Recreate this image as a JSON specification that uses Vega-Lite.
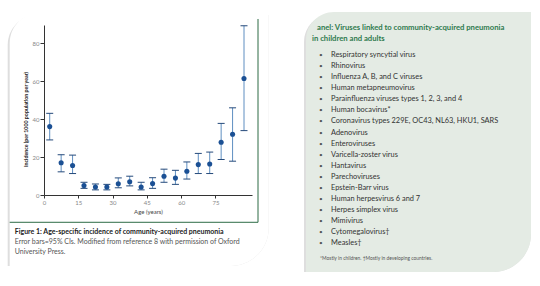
{
  "$schema": "https://vega.github.io/schema/vega-lite/v6.json",
  "background": "#ffffff",
  "padding": {"left": 7, "top": 12, "right": 0, "bottom": 0},
  "spacing": 35,
  "config": {"view": {"stroke": null}, "font": "Lato", "axis": {"grid": false, "zindex": 1}},
  "datasets": {
    "pts": [
      {"age": 2.5, "inc": 36, "lo": 29, "hi": 43},
      {"age": 7.5, "inc": 17, "lo": 12.2, "hi": 21.2},
      {"age": 12.5, "inc": 15.5, "lo": 11.3, "hi": 21},
      {"age": 17.5, "inc": 5, "lo": 3.5, "hi": 6.7},
      {"age": 22.5, "inc": 4.2, "lo": 2.7, "hi": 5.8},
      {"age": 27.5, "inc": 4.2, "lo": 2.7, "hi": 5.6},
      {"age": 32.5, "inc": 5.9, "lo": 3.8, "hi": 9},
      {"age": 37.5, "inc": 7, "lo": 4.8, "hi": 9.9},
      {"age": 42.5, "inc": 4.2, "lo": 2.7, "hi": 6.7},
      {"age": 47.5, "inc": 6, "lo": 3.5, "hi": 9.1},
      {"age": 52.5, "inc": 9.9, "lo": 6.7, "hi": 13.6},
      {"age": 57.5, "inc": 8.9, "lo": 5.6, "hi": 13},
      {"age": 62.5, "inc": 12.5, "lo": 8.4, "hi": 17.4},
      {"age": 67.5, "inc": 16, "lo": 11.3, "hi": 21.9},
      {"age": 72.5, "inc": 16.3, "lo": 11.3, "hi": 22.6},
      {"age": 77.5, "inc": 27.8, "lo": 18.7, "hi": 37.7},
      {"age": 82.5, "inc": 32, "lo": 17.8, "hi": 45.9},
      {"age": 87.5, "inc": 61.3, "lo": 33.9, "hi": 89.1}
    ],
    "viruses": [
      {"row": 0, "name": "Respiratory syncytial virus"},
      {"row": 1, "name": "Rhinovirus"},
      {"row": 2, "name": "Influenza A, B, and C viruses"},
      {"row": 3, "name": "Human metapneumovirus"},
      {"row": 4, "name": "Parainfluenza viruses types 1, 2, 3, and 4"},
      {"row": 5, "name": "Human bocavirus*"},
      {"row": 6, "name": "Coronavirus types 229E, OC43, NL63, HKU1, SARS"},
      {"row": 7, "name": "Adenovirus"},
      {"row": 8, "name": "Enteroviruses"},
      {"row": 9, "name": "Varicella-zoster virus"},
      {"row": 10, "name": "Hantavirus"},
      {"row": 11, "name": "Parechoviruses"},
      {"row": 12, "name": "Epstein-Barr virus"},
      {"row": 13, "name": "Human herpesvirus 6 and 7"},
      {"row": 14, "name": "Herpes simplex virus"},
      {"row": 15, "name": "Mimivirus"},
      {"row": 16, "name": "Cytomegalovirus†"},
      {"row": 17, "name": "Measles†"}
    ]
  },
  "hconcat": [
    {
      "width": 208,
      "height": 170,
      "layer": [
        {
          "data": {"values": [{}]},
          "mark": {"type": "rect", "fill": "#d6d6d6", "opacity": 0.8, "xOffset": -2, "yOffset": 2, "cornerRadiusTopLeft": 30, "cornerRadiusBottomRight": 38, "clip": false},
          "encoding": {
            "x": {"datum": -15.01, "type": "quantitative", "scale": {"domain": [0, 91], "nice": false, "zero": false}},
            "x2": {"datum": 98.31},
            "y": {"datum": 95.82, "type": "quantitative", "scale": {"domain": [0, 89.5], "nice": false, "zero": false}},
            "y2": {"datum": -37.38}
          }
        },
        {
          "data": {"values": [{}]},
          "mark": {"type": "rect", "fill": "#ffffff", "cornerRadiusTopLeft": 30, "cornerRadiusBottomRight": 38, "clip": false},
          "encoding": {
            "x": {"datum": -15.01, "type": "quantitative", "scale": {"domain": [0, 91], "nice": false, "zero": false}},
            "x2": {"datum": 98.31},
            "y": {"datum": 95.82, "type": "quantitative", "scale": {"domain": [0, 89.5], "nice": false, "zero": false}},
            "y2": {"datum": -37.38}
          }
        },
        {
          "data": {"values": [{}]},
          "mark": {"type": "rule", "color": "#2d6b45", "strokeWidth": 1, "clip": false},
          "encoding": {
            "x": {"datum": 93.63, "type": "quantitative", "scale": {"domain": [0, 91], "nice": false, "zero": false}},
            "y": {"datum": 92.66, "type": "quantitative", "scale": {"domain": [0, 89.5], "nice": false, "zero": false}},
            "y2": {"datum": -14.37}
          }
        },
        {
          "data": {"values": [{}]},
          "mark": {"type": "rule", "color": "#2d6b45", "strokeWidth": 1, "clip": false},
          "encoding": {
            "x": {"datum": -15.01, "type": "quantitative", "scale": {"domain": [0, 91], "nice": false, "zero": false}},
            "x2": {"datum": 93.63},
            "y": {"datum": -14.37, "type": "quantitative", "scale": {"domain": [0, 89.5], "nice": false, "zero": false}}
          }
        },
        {
          "data": {"name": "pts"},
          "mark": {"type": "rule", "color": "#4d82ba", "strokeWidth": 0.9},
          "encoding": {
            "x": {"field": "age", "type": "quantitative", "scale": {"domain": [0, 91], "nice": false, "zero": false}},
            "y": {"field": "lo", "type": "quantitative", "scale": {"domain": [0, 89.5], "nice": false, "zero": false}},
            "y2": {"field": "hi"}
          }
        },
        {
          "data": {"name": "pts"},
          "mark": {"type": "tick", "orient": "horizontal", "size": 7, "thickness": 1, "color": "#24497a", "opacity": 1},
          "encoding": {
            "x": {"field": "age", "type": "quantitative", "scale": {"domain": [0, 91], "nice": false, "zero": false}},
            "y": {"field": "lo", "type": "quantitative", "scale": {"domain": [0, 89.5], "nice": false, "zero": false}}
          }
        },
        {
          "data": {"name": "pts"},
          "mark": {"type": "tick", "orient": "horizontal", "size": 7, "thickness": 1, "color": "#24497a", "opacity": 1},
          "encoding": {
            "x": {"field": "age", "type": "quantitative", "scale": {"domain": [0, 91], "nice": false, "zero": false}},
            "y": {"field": "hi", "type": "quantitative", "scale": {"domain": [0, 89.5], "nice": false, "zero": false}}
          }
        },
        {
          "data": {"name": "pts"},
          "mark": {"type": "circle", "size": 26, "color": "#1b5094", "opacity": 1},
          "encoding": {
            "x": {"field": "age", "type": "quantitative", "scale": {"domain": [0, 91], "nice": false, "zero": false},
              "axis": {"zindex": 2, "values": [0, 15, 30, 45, 60, 75], "title": "Age (years)", "titleFontSize": 6, "titleFontWeight": "normal", "titleColor": "#444444", "titlePadding": 3, "labelFontSize": 6, "labelColor": "#888888", "labelPadding": 1, "tickSize": 3, "tickColor": "#333333", "domainColor": "#333333", "labelFlush": false}},
            "y": {"field": "inc", "type": "quantitative", "scale": {"domain": [0, 89.5], "nice": false, "zero": false},
              "axis": {"zindex": 2, "values": [0, 20, 40, 60, 80], "title": "Incidence (per 1000 population per year)", "titleFontSize": 5.3, "titleFontWeight": "bold", "titleColor": "#222222", "titlePadding": 4, "titleY": 94, "labelFontSize": 6, "labelColor": "#888888", "labelPadding": 1, "tickSize": 4, "tickColor": "#333333", "domainColor": "#333333"}}
          }
        },
        {
          "data": {"values": [{}]},
          "mark": {"type": "text", "text": "Figure 1: Age-specific incidence of community-acquired pneumonia", "align": "left", "baseline": "middle", "fontSize": 7, "fontWeight": "bold", "color": "#222222", "clip": false},
          "encoding": {"x": {"datum": -12.82, "type": "quantitative", "scale": {"domain": [0, 91], "nice": false, "zero": false}}, "y": {"datum": -19.64, "type": "quantitative", "scale": {"domain": [0, 89.5], "nice": false, "zero": false}}}
        },
        {
          "data": {"values": [{}]},
          "mark": {"type": "text", "text": "Error bars=95% CIs. Modified from reference 8 with permission of Oxford", "align": "left", "baseline": "middle", "fontSize": 7, "color": "#555555", "clip": false},
          "encoding": {"x": {"datum": -12.82, "type": "quantitative", "scale": {"domain": [0, 91], "nice": false, "zero": false}}, "y": {"datum": -24.75, "type": "quantitative", "scale": {"domain": [0, 89.5], "nice": false, "zero": false}}}
        },
        {
          "data": {"values": [{}]},
          "mark": {"type": "text", "text": "University Press.", "align": "left", "baseline": "middle", "fontSize": 7, "color": "#555555", "clip": false},
          "encoding": {"x": {"datum": -12.82, "type": "quantitative", "scale": {"domain": [0, 91], "nice": false, "zero": false}}, "y": {"datum": -30.17, "type": "quantitative", "scale": {"domain": [0, 89.5], "nice": false, "zero": false}}}
        }
      ]
    },
    {
      "width": 225,
      "height": 247,
      "layer": [
        {
          "data": {"values": [{}]},
          "mark": {"type": "rect", "fill": "#d6d6d6", "opacity": 0.8, "xOffset": -2, "yOffset": 2, "cornerRadiusTopLeft": 28, "cornerRadiusBottomRight": 38, "clip": false},
          "encoding": {
            "x": {"datum": 0, "type": "quantitative", "scale": {"domain": [0, 225], "nice": false}, "axis": null},
            "x2": {"datum": 225},
            "y": {"datum": -3.881, "type": "quantitative", "scale": {"domain": [-2.708, 19.585], "reverse": true, "nice": false, "zero": false}, "axis": null},
            "y2": {"datum": 19.585}
          }
        },
        {
          "data": {"values": [{}]},
          "mark": {"type": "rect", "fill": "#e4ebe4", "cornerRadiusTopLeft": 28, "cornerRadiusBottomRight": 38, "clip": false},
          "encoding": {
            "x": {"datum": 0, "type": "quantitative"},
            "x2": {"datum": 225},
            "y": {"datum": -3.881, "type": "quantitative"},
            "y2": {"datum": 19.585}
          }
        },
        {
          "data": {"values": [{}]},
          "mark": {"type": "text", "text": "anel: Viruses linked to community-acquired pneumonia", "align": "left", "baseline": "middle", "fontSize": 7.7, "fontWeight": "bold", "color": "#2f7a4e", "clip": false},
          "encoding": {"x": {"datum": 11, "type": "quantitative"}, "y": {"datum": -2.437, "type": "quantitative"}}
        },
        {
          "data": {"values": [{}]},
          "mark": {"type": "text", "text": "in children and adults", "align": "left", "baseline": "middle", "fontSize": 7.7, "fontWeight": "bold", "color": "#2f7a4e", "clip": false},
          "encoding": {"x": {"datum": 6, "type": "quantitative"}, "y": {"datum": -1.489, "type": "quantitative"}}
        },
        {
          "data": {"name": "viruses"},
          "mark": {"type": "text", "text": "•", "align": "center", "baseline": "middle", "fontSize": 6.5, "color": "#555555"},
          "encoding": {"x": {"datum": 15, "type": "quantitative"}, "y": {"field": "row", "type": "quantitative"}}
        },
        {
          "data": {"name": "viruses"},
          "mark": {"type": "text", "align": "left", "baseline": "middle", "fontSize": 7.4, "color": "#333333"},
          "encoding": {"x": {"datum": 25, "type": "quantitative"}, "y": {"field": "row", "type": "quantitative"}, "text": {"field": "name"}}
        },
        {
          "data": {"values": [{}]},
          "mark": {"type": "text", "text": "*Mostly in children. †Mostly in developing countries.", "align": "left", "baseline": "middle", "fontSize": 4.9, "color": "#555555", "clip": false},
          "encoding": {"x": {"datum": 14, "type": "quantitative"}, "y": {"datum": 18.44, "type": "quantitative"}}
        }
      ]
    }
  ]
}
